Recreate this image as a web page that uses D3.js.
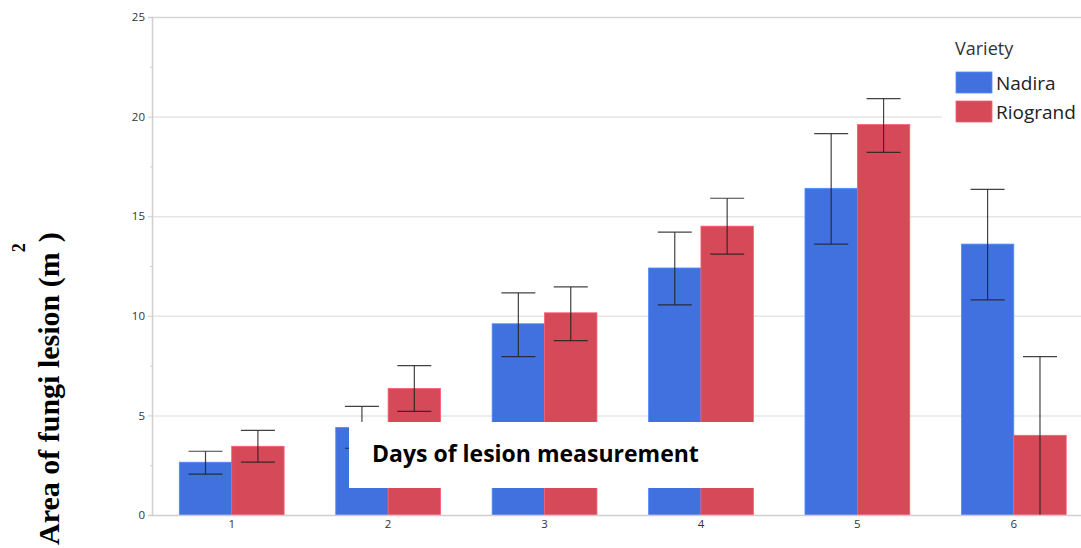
<!DOCTYPE html>
<html>
<head>
<meta charset="utf-8">
<script src="https://cdn.jsdelivr.net/npm/d3@7"></script>
<style>
  html, body { margin: 0; padding: 0; background: #fff; overflow: hidden; }
  svg { display: block; }
</style>
</head>
<body>
<svg id="chart" width="1081" height="548"></svg>
<script>
// Lesion area by day and variety, mean with error range
const days = ["1", "2", "3", "4", "5", "6"];
const varieties = ["Nadira", "Riogrand"];
const nadiraMean  = [2.65, 4.4, 9.6, 12.4, 16.4, 13.6];
const nadiraLow   = [2.05, 3.35, 7.95, 10.55, 13.6, 10.8];
const nadiraHigh  = [3.2, 5.45, 11.15, 14.2, 19.15, 16.35];
const riograndMean = [3.45, 6.35, 10.15, 14.5, 19.6, 4.0];
const riograndLow  = [2.65, 5.2, 8.75, 13.1, 18.2, 0];
const riograndHigh = [4.25, 7.5, 11.45, 15.9, 20.9, 7.95];
const yTicks = [0, 5, 10, 15, 20, 25];
const yMinorTicks = [2.5, 7.5, 12.5, 17.5, 22.5];
const colors = ["#4171df", "#d54959"];

const rows = [];
days.forEach((d, i) => {
  rows.push({ day: d, variety: varieties[0], mean: nadiraMean[i], lo: nadiraLow[i], hi: nadiraHigh[i] });
  rows.push({ day: d, variety: varieties[1], mean: riograndMean[i], lo: riograndLow[i], hi: riograndHigh[i] });
});

const svg = d3.select("#chart");
const plotLeft = 152, plotTop = 17, plotBottom = 515, plotRight = 1092;

const x = d3.scaleBand().domain(days).range([plotLeft + 1.5, plotRight]).paddingInner(0.33).paddingOuter(0.165);
const xInner = d3.scaleBand().domain(varieties).range([0, x.bandwidth()]);
const y = d3.scaleLinear().domain([0, 25]).range([plotBottom, plotTop]);
const color = d3.scaleOrdinal().domain(varieties).range(colors);

// gridlines
svg.append("g").selectAll("line").data(yTicks.filter(t => t > 0)).join("line")
  .attr("x1", plotLeft).attr("x2", 1081)
  .attr("y1", d => y(d) + 0.5).attr("y2", d => y(d) + 0.5)
  .attr("stroke", d => d === 25 ? "#d6d6d6" : "#e6e6e6").attr("stroke-width", 1.5);

// y axis
const yAxis = svg.append("g").attr("transform", `translate(${plotLeft},0)`)
  .call(d3.axisLeft(y).tickValues(yTicks).tickSize(4).tickPadding(3).tickFormat(d3.format("d")));
yAxis.select(".domain").attr("stroke", "#cfcfcf").attr("stroke-width", 1.5);
yAxis.selectAll(".tick line").attr("stroke", "#cfcfcf");
yAxis.selectAll("text").attr("font-family", "'Open Sans', sans-serif").attr("font-size", 11.5).attr("fill", "#333");
svg.append("g").selectAll("line").data(yMinorTicks).join("line")
  .attr("x1", plotLeft - 2).attr("x2", plotLeft)
  .attr("y1", d => y(d) + 0.5).attr("y2", d => y(d) + 0.5)
  .attr("stroke", "#cfcfcf");

// bars
const groups = svg.append("g").selectAll("g").data(rows).join("g")
  .attr("transform", d => `translate(${x(d.day) + xInner(d.variety)},0)`);
groups.append("rect")
  .attr("x", 0).attr("width", xInner.bandwidth())
  .attr("y", d => y(d.mean)).attr("height", d => y(0) - y(d.mean))
  .attr("fill", d => color(d.variety))
  .attr("stroke", d => d3.color(color(d.variety)).brighter(0.6)).attr("stroke-width", 0.8);

// error bars
const cap = 17;
groups.each(function(d) {
  const g = d3.select(this);
  const cx = xInner.bandwidth() / 2;
  const seg = (x1, y1, x2, y2) => g.append("line")
    .attr("x1", x1).attr("y1", y1).attr("x2", x2).attr("y2", y2)
    .attr("stroke", "#222").attr("stroke-opacity", 0.85).attr("stroke-width", 1.2);
  seg(cx, y(d.lo), cx, y(d.hi));
  seg(cx - cap, y(d.hi), cx + cap, y(d.hi));
  if (d.lo > 0) seg(cx - cap, y(d.lo), cx + cap, y(d.lo));
});

// x axis
const xAxis = svg.append("g").attr("transform", `translate(0,${plotBottom})`)
  .call(d3.axisBottom(x).tickSize(0).tickPadding(5));
xAxis.select(".domain").attr("d", `M${plotLeft},0.5H1081`).attr("stroke", "#cfcfcf").attr("stroke-width", 1.5);
xAxis.selectAll("text").attr("font-family", "'Open Sans', sans-serif").attr("font-size", 11.5).attr("fill", "#333");

// legend
const lg = svg.append("g");
lg.append("rect").attr("x", 942).attr("y", 32).attr("width", 139).attr("height", 96).attr("fill", "#fff");
lg.append("text").attr("x", 955).attr("y", 55).text("Variety")
  .attr("font-family", "'Open Sans', sans-serif").attr("font-size", 18).attr("fill", "#333");
varieties.forEach((v, i) => {
  lg.append("rect").attr("x", 956).attr("y", 72 + i * 29).attr("width", 36).attr("height", 21)
    .attr("fill", colors[i]).attr("stroke", d3.color(colors[i]).brighter(0.6)).attr("stroke-width", 0.8);
  lg.append("text").attr("x", 996).attr("y", 90 + i * 28.5).text(v)
    .attr("font-family", "'Open Sans', sans-serif").attr("font-size", 19).attr("fill", "#222");
});

// overlaid x-axis title box
svg.append("rect").attr("x", 349).attr("y", 422).attr("width", 410).attr("height", 66).attr("fill", "#fff");
svg.append("text").attr("x", 372).attr("y", 462).text("Days of lesion measurement")
  .attr("font-family", "'Open Sans', sans-serif").attr("font-weight", "bold")
  .attr("font-size", 23).attr("fill", "#000");

// y axis title
const yt = svg.append("text")
  .attr("transform", "translate(59,545) rotate(-90)")
  .attr("font-family", "'Liberation Serif', 'Times New Roman', serif").attr("font-weight", "bold")
  .attr("font-size", 30).attr("fill", "#000");
yt.append("tspan").text("Area of fungi lesion (m");
yt.append("tspan").attr("dy", -34).attr("dx", 0).attr("font-size", 18).text("2");
yt.append("tspan").attr("dy", 34).attr("dx", 1).text(")");

// superscript peeking in at the bottom edge
svg.append("text").attr("x", 587).attr("y", 560).text("2")
  .attr("font-family", "'Liberation Serif', serif").attr("font-weight", "bold")
  .attr("font-size", 17).attr("fill", "#000");
</script>
</body>
</html>
